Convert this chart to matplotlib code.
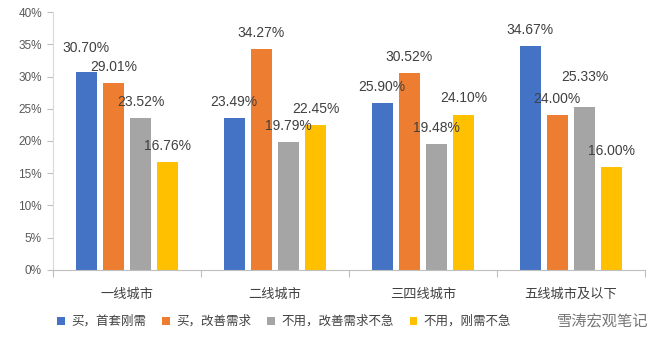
import matplotlib.pyplot as plt
import numpy as np

plt.rcParams['font.family'] = ['Liberation Sans', 'Noto Sans CJK SC']

categories = ["一线城市", "二线城市", "三四线城市", "五线城市及以下"]
series_names = ["买，首套刚需", "买，改善需求", "不用，改善需求不急", "不用，刚需不急"]
first_home = [30.70, 23.49, 25.90, 34.67]
upgrade = [29.01, 34.27, 30.52, 24.00]
no_upgrade = [23.52, 19.79, 19.48, 25.33]
no_rigid = [16.76, 22.45, 24.10, 16.00]

colors = ['#4472c4', '#ed7d31', '#a5a5a5', '#ffc000']
# extra lift (pixels) for labels that were moved up in the original
label_lift = {(0, 0): 8, (2, 3): 14, (3, 2): 1}

series = [first_home, upgrade, no_upgrade, no_rigid]
x = np.arange(len(categories))
width = 0.14
pitch = 0.183

fig = plt.figure(figsize=(6.58, 3.51), dpi=100)
ax = fig.add_axes([0.0805, 0.2308, 0.8995, 0.735])

for i, vals in enumerate(series):
    pos = x + (i - 1.5) * pitch
    ax.bar(pos, vals, width, color=colors[i], label=series_names[i], zorder=2)
    for j, v in enumerate(vals):
        ax.annotate(f"{v:.2f}%", (pos[j], v), xytext=(0, 9 + label_lift.get((i, j), 0)),
                    textcoords='offset pixels', ha='center', va='bottom',
                    fontsize=10, color='#404040')

ax.set_xlim(-0.5, 3.5)
ax.set_ylim(0, 40)
ax.set_yticks(range(0, 41, 5))
ax.set_yticklabels([f"{t}%" for t in range(0, 41, 5)])
ax.tick_params(axis='y', labelsize=8.5, labelcolor='#595959', length=4, color='#bfbfbf', pad=4)

ax.set_xticks(np.arange(-0.5, 3.6, 1))
ax.set_xticklabels([])
ax.set_xticks(x, minor=True)
ax.set_xticklabels(categories, minor=True)
ax.tick_params(axis='x', which='major', length=5, color='#bfbfbf')
ax.tick_params(axis='x', which='minor', length=0, labelsize=9.5, labelcolor='#404040', pad=13)

for s in ['top', 'right']:
    ax.spines[s].set_visible(False)
ax.spines['left'].set_color('#d9d9d9')
ax.spines['bottom'].set_color('#bfbfbf')

fig.legend(loc='center left', bbox_to_anchor=(0.07, 0.083), ncol=4, frameon=False,
           fontsize=9, handlelength=0.6, handleheight=0.6, handletextpad=0.5,
           columnspacing=1.3, labelcolor='#404040')

fig.text(0.985, 0.083, "雪涛宏观笔记", ha='right', va='center', fontsize=11,
         color='#606060', family=['Noto Sans CJK SC'], alpha=0.85)

fig.savefig("out.png", dpi=100)
